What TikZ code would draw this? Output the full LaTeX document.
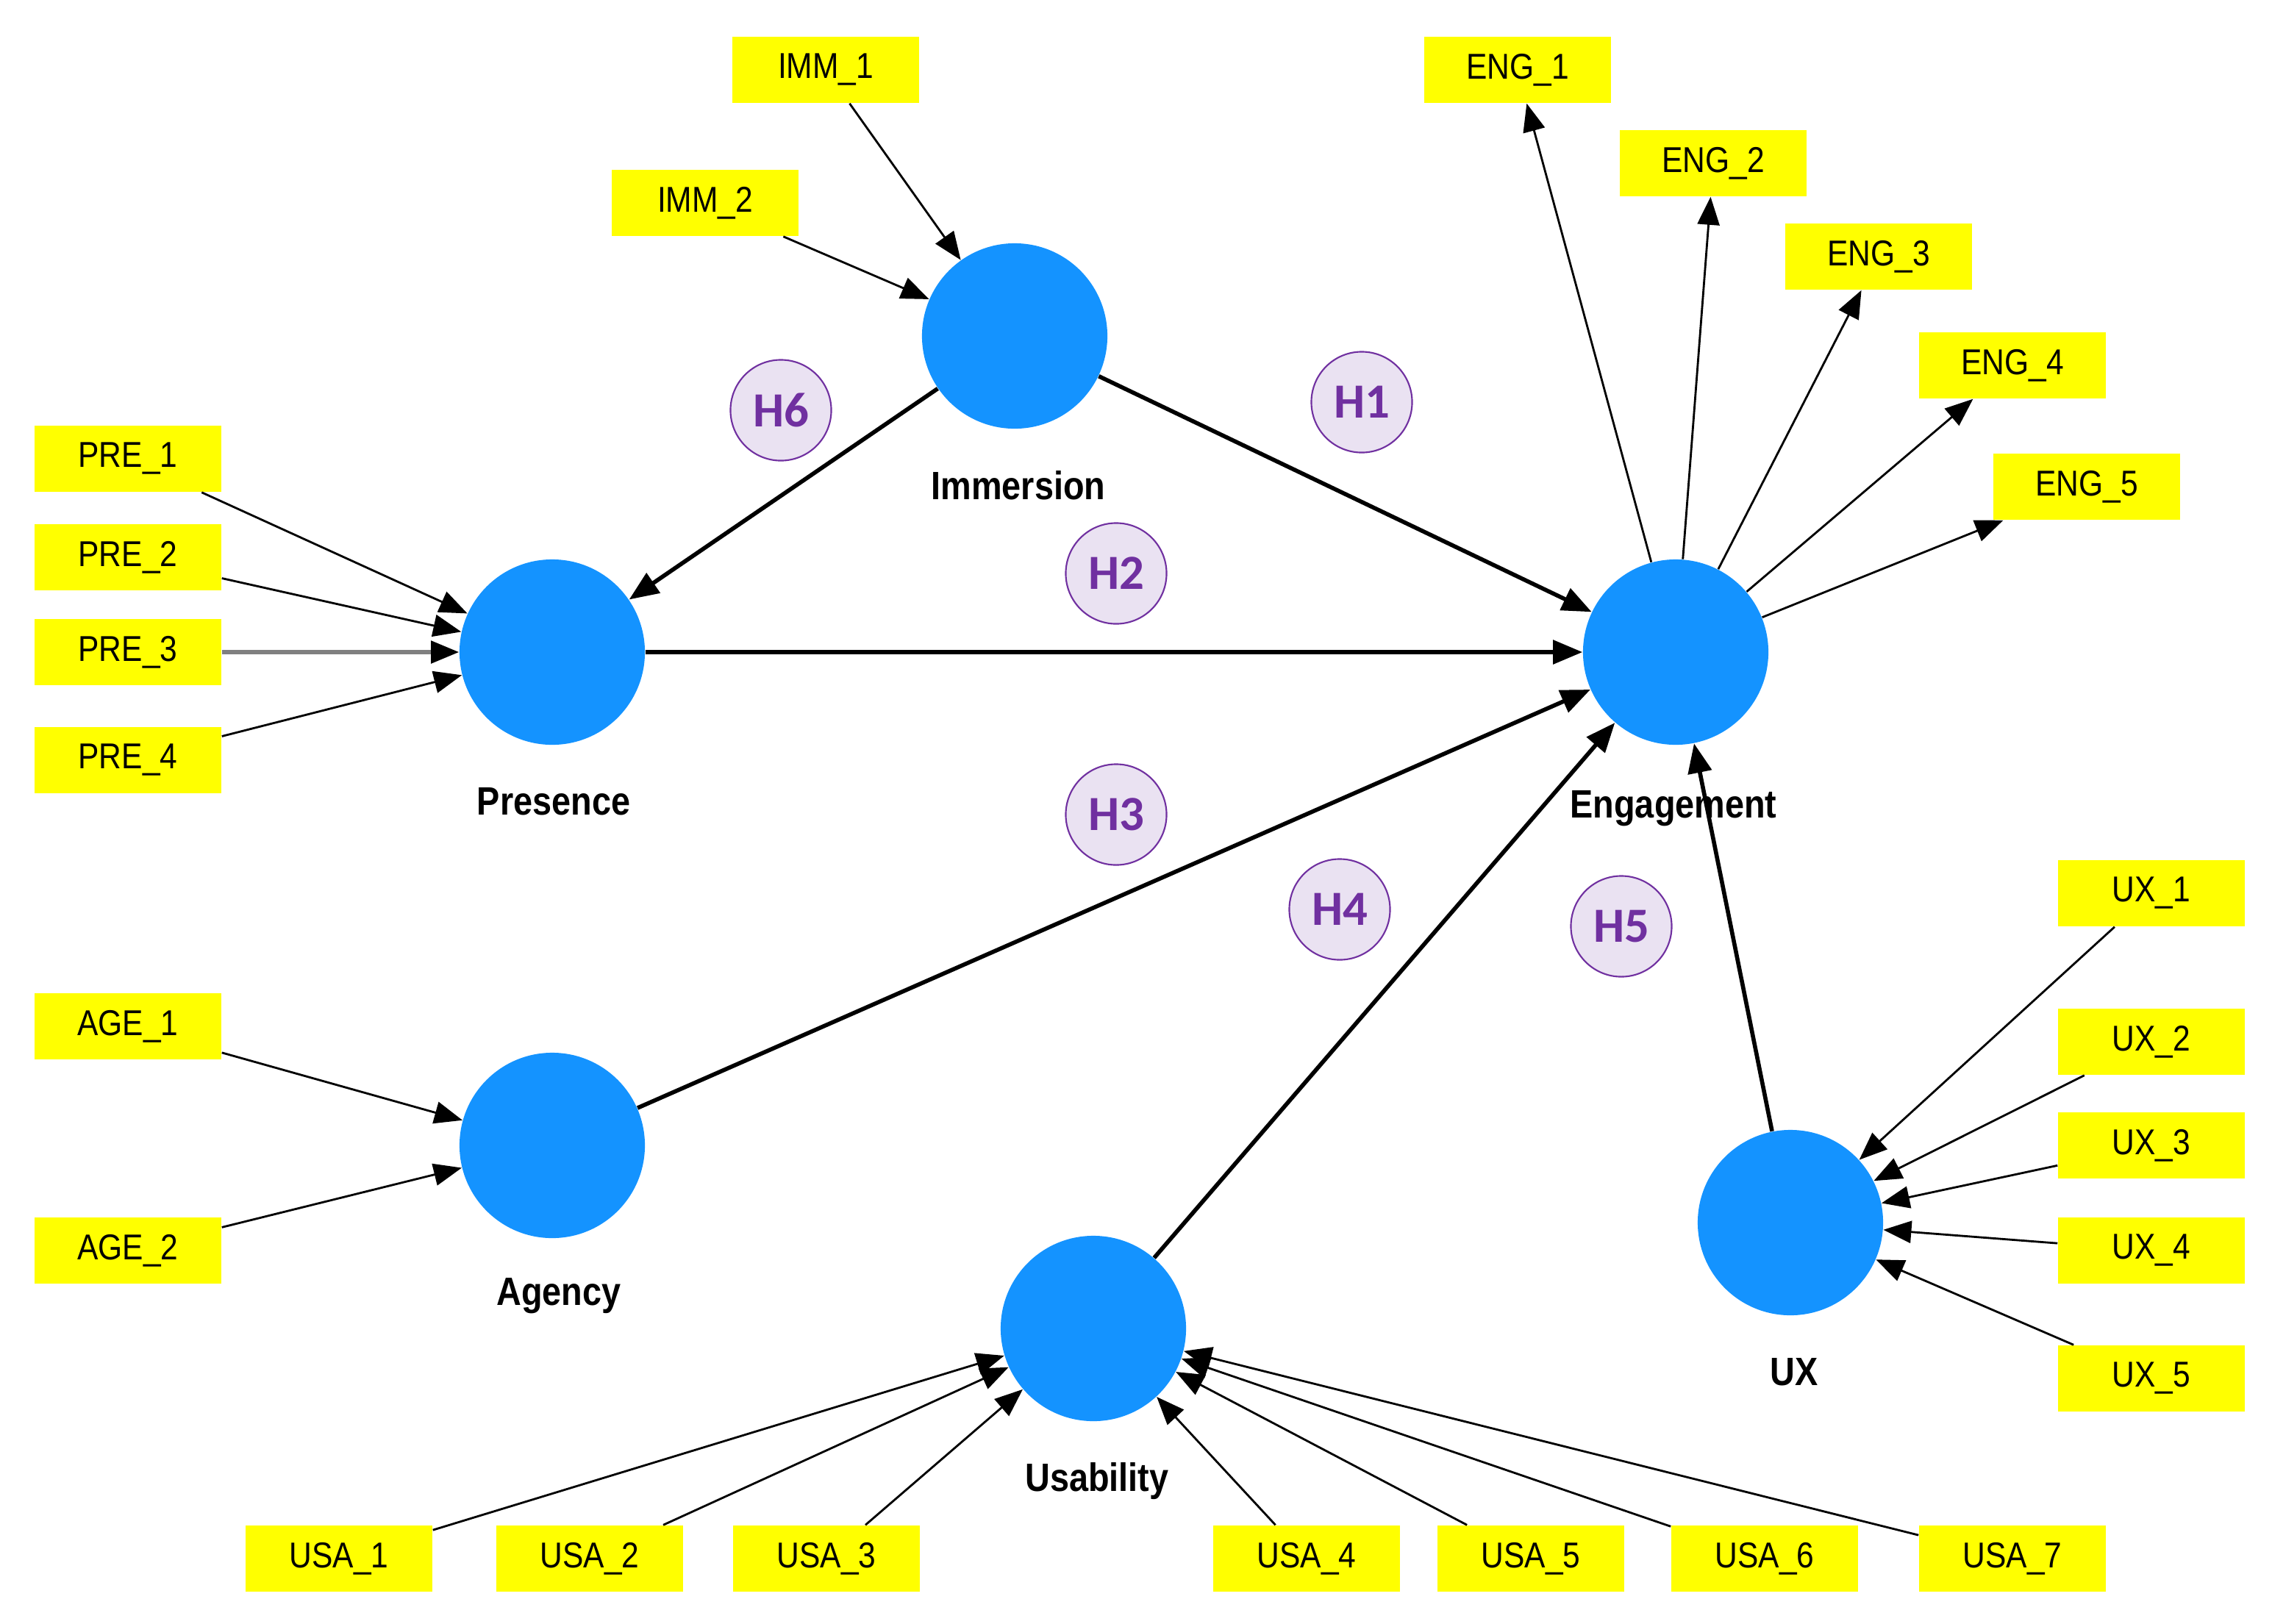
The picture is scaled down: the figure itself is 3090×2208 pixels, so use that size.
\documentclass[tikz,border=0pt]{standalone}
\usepackage{fontspec}
\setmainfont{Liberation Sans}
\newfontfamily\condfont[FakeStretch=0.87]{Liberation Sans}
\newfontfamily\hfont{Carlito}
\usetikzlibrary{arrows.meta}
\definecolor{indyellow}{RGB}{255,255,0}
\definecolor{lvblue}{RGB}{20,147,255}
\definecolor{hypfill}{RGB}{234,226,242}
\definecolor{hyppurple}{RGB}{112,48,160}
\begin{document}
\begin{tikzpicture}[x=0.01cm,y=-0.01cm,
 indbox/.style={fill=indyellow, minimum width=2.54cm, minimum height=0.9cm, inner sep=0pt, font=\condfont\fontsize{13.9}{15}\selectfont},
 latent/.style={circle, fill=lvblue, minimum size=2.52cm, inner sep=0pt},
 lvlabel/.style={font=\condfont\bfseries\fontsize{15.3}{17}\selectfont},
 hyp/.style={circle, draw=hyppurple, fill=hypfill, line width=0.6pt, minimum size=1.37cm, inner sep=0pt, text=hyppurple, font=\hfont\bfseries\fontsize{19}{21}\selectfont},
 thinarr/.style={-{Triangle[length=0.38cm,width=0.3cm]}, line width=0.8pt},
 thickarr/.style={-{Triangle[length=0.4cm,width=0.32cm]}, line width=1.6pt},
]
\useasboundingbox (0,0) rectangle (3090,2208);

% latent variables
\node[latent] (imm) at (1380,457) {};
\node[latent] (pre) at (751,887) {};
\node[latent] (eng) at (2279,887) {};
\node[latent] (age) at (751,1558) {};
\node[latent] (usa) at (1487,1807) {};
\node[latent] (ux) at (2435,1663) {};

\node[lvlabel] (limm) at (1385,660) {Immersion};
\node[lvlabel] (lpre) at (753,1090) {Presence};
\node[lvlabel] (leng) at (2276,1100) {Engagement};
\node[lvlabel] (lage) at (760,1763) {Agency};
\node[lvlabel] (lusa) at (1492,2015) {Usability};
\node[lvlabel] (lux) at (2440,1866) {UX};

% indicators
\node[indbox] (imm1) at (1123,95) {IMM\_1};
\node[indbox] (imm2) at (959,276) {IMM\_2};
\node[indbox] (pre1) at (174,624) {PRE\_1};
\node[indbox] (pre2) at (174,758) {PRE\_2};
\node[indbox] (pre3) at (174,887) {PRE\_3};
\node[indbox] (pre4) at (174,1034) {PRE\_4};
\node[indbox] (age1) at (174,1396) {AGE\_1};
\node[indbox] (age2) at (174,1701) {AGE\_2};
\node[indbox] (usa1) at (461,2120) {USA\_1};
\node[indbox] (usa2) at (802,2120) {USA\_2};
\node[indbox] (usa3) at (1124,2120) {USA\_3};
\node[indbox] (usa4) at (1777,2120) {USA\_4};
\node[indbox] (usa5) at (2082,2120) {USA\_5};
\node[indbox] (usa6) at (2400,2120) {USA\_6};
\node[indbox] (usa7) at (2737,2120) {USA\_7};
\node[indbox] (eng1) at (2064,95) {ENG\_1};
\node[indbox] (eng2) at (2330,222) {ENG\_2};
\node[indbox] (eng3) at (2555,349) {ENG\_3};
\node[indbox] (eng4) at (2737,497) {ENG\_4};
\node[indbox] (eng5) at (2838,662) {ENG\_5};
\node[indbox] (ux1) at (2926,1215) {UX\_1};
\node[indbox] (ux2) at (2926,1417) {UX\_2};
\node[indbox] (ux3) at (2926,1558) {UX\_3};
\node[indbox] (ux4) at (2926,1701) {UX\_4};
\node[indbox] (ux5) at (2926,1875) {UX\_5};

% hypotheses
\node[hyp] (h1) at (1852,547) {H1};
\node[hyp] (h2) at (1518,780) {H2};
\node[hyp] (h3) at (1518,1108) {H3};
\node[hyp] (h4) at (1822,1237) {H4};
\node[hyp] (h5) at (2205,1260) {H5};
\node[hyp] (h6) at (1062,558) {H6};

% measurement arrows
\draw[thinarr] (imm1) -- (imm);
\draw[thinarr] (imm2) -- (imm);
\draw[thinarr] (pre1) -- (pre);
\draw[thinarr] (pre2) -- (pre);
\draw[-{Triangle[length=0.38cm,width=0.3cm,color=black]}, line width=1.5pt, draw=gray] (pre3) -- (pre);
\draw[thinarr] (pre4) -- (pre);
\draw[thinarr] (age1) -- (age);
\draw[thinarr] (age2) -- (age);
\foreach \u in {usa1,usa2,usa3,usa4,usa5,usa6,usa7} {\draw[thinarr] (\u) -- (usa);}
\foreach \u in {ux1,ux2,ux3,ux4,ux5} {\draw[thinarr] (\u) -- (ux);}
\foreach \e in {eng1,eng2,eng3,eng4,eng5} {\draw[thinarr] (eng) -- (\e);}

% structural arrows
\draw[thickarr] (imm) -- (eng);
\draw[thickarr] (pre) -- (eng);
\draw[thickarr] (age) -- (eng);
\draw[thickarr] (usa) -- (eng);
\draw[thickarr] (ux) -- (eng);
\draw[thickarr] (imm) -- (pre);
\end{tikzpicture}
\end{document}
